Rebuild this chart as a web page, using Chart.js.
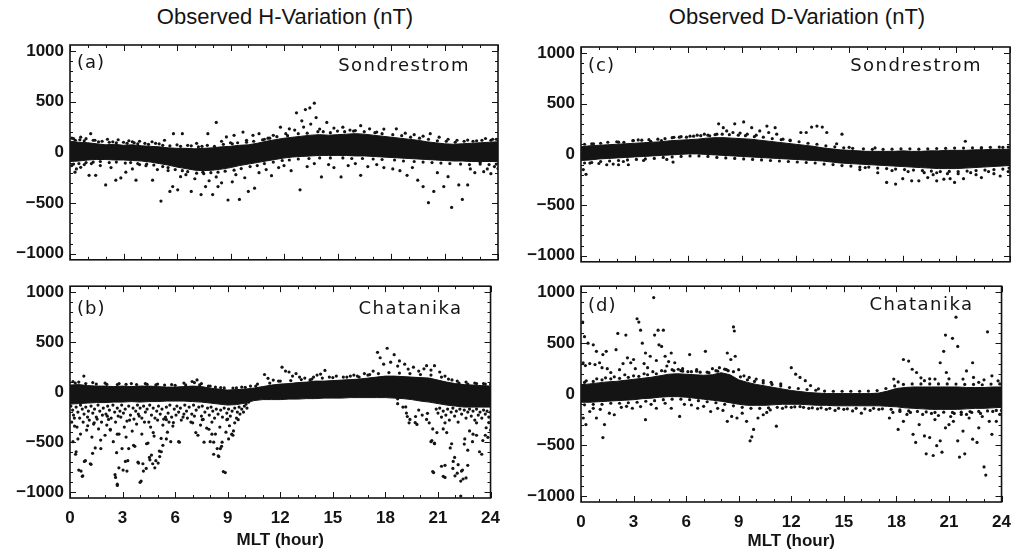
<!DOCTYPE html>
<html>
<head>
<meta charset="utf-8">
<script src="https://cdn.jsdelivr.net/npm/chart.js@4.4.1/dist/chart.umd.min.js"></script>
<style>
  body { margin: 0; background: #fff; width: 1021px; height: 552px; position: relative; overflow: hidden; }
  canvas { position: absolute; }
  .title { position: absolute; top: 4px; font: 22px "Liberation Sans", Arial, sans-serif; line-height: 26px; color: #141414; text-align: center; white-space: nowrap; }
</style>
</head>
<body>
<div class="title" style="left:0;width:570px">Observed H-Variation (nT)</div>
<div class="title" style="left:510px;width:574px">Observed D-Variation (nT)</div>
<canvas id="pa" width="510" height="276" style="left:0;top:0"></canvas>
<canvas id="pc" width="511" height="278" style="left:510px;top:0"></canvas>
<canvas id="pb" width="510" height="282" style="left:0;top:270px"></canvas>
<canvas id="pd" width="511" height="282" style="left:510px;top:270px"></canvas>
<script>
// axis ticks
const mltTicks = [0, 3, 6, 9, 12, 15, 18, 21, 24]
const nTTicks = [-1000, -500, 0, 500, 1000]

// MLT positions where the dense core band edges were read (hour)
const bandMLT = [0,0.5,1,1.5,2,2.5,3,3.5,4,4.5,5,5.5,6,6.5,7,7.5,8,8.5,9,9.5,10,10.5,11,11.5,12,12.5,13,13.5,14,14.5,15,15.5,16,16.5,17,17.5,18,18.5,19,19.5,20,20.5,21,21.5,22,22.5,23,23.5,24]

// (a) Sondrestrom H
const upperA = [110,100,95,85,75,80,70,75,65,60,55,45,40,40,35,40,45,55,60,70,75,90,110,125,140,150,160,170,175,170,175,180,185,180,170,160,150,140,130,120,105,95,85,80,85,90,95,100,105]
const lowerA = [-90,-85,-75,-70,-70,-75,-75,-80,-85,-95,-110,-125,-145,-160,-175,-180,-175,-165,-150,-130,-115,-100,-85,-70,-55,-45,-40,-35,-30,-30,-30,-30,-35,-35,-40,-45,-50,-55,-60,-65,-70,-75,-80,-85,-85,-90,-90,-90,-90]
const dotsA = [[0.1,140],[0.3,120],[0.6,150],[0.9,135],[1.16,185],[1.4,120],[1.8,110],[2.1,130],[2.4,105],[2.7,125],[3.0,100],[3.3,115],[3.6,95],[3.9,110],[4.2,90],[4.6,105],[5.0,85],[5.3,120],[5.8,185],[6.3,185],[6.0,75],[6.6,70],[7.1,90],[7.4,60],[7.73,185],[8.2,296],[8.5,110],[8.77,153],[9.2,169],[9.0,95],[9.7,201],[9.9,120],[10.26,169],[10.6,185],[10.9,130],[11.4,169],[11.8,249],[11.2,140],
  [12.1,185],[12.3,233],[12.7,391],[13.0,312],[13.2,423],[13.45,439],[13.7,486],[13.8,344],[13.5,280],[14.4,296],[12.6,220],[13.1,250],[14.0,230],[14.8,240],[15.3,249],[15.7,220],[16.3,264],[16.8,233],[17.2,201],[17.6,230],[18.3,233],[18.8,190],[19.3,175],[19.8,160],[20.2,185],[20.7,150],[21.2,130],[21.7,120],[22.3,122],[22.8,115],[23.3,137],[23.7,130],[24.0,125],[15.0,210],[16.0,215],[14.2,205],
  [0.1,-130],[0.28,-195],[0.36,-163],[0.6,-147],[0.8,-120],[1.07,-226],[1.44,-226],[1.2,-110],[1.7,-130],[2.0,-321],[2.3,-150],[2.57,-274],[2.85,-252],[3.13,-195],[3.5,-163],[3.7,-274],[3.9,-120],[4.26,-131],[4.63,-274],[4.9,-170],[5.1,-480],[5.5,-179],[5.6,-385],[5.76,-337],[6.04,-369],[6.2,-240],[6.5,-220],[6.8,-385],[7.0,-260],[7.35,-416],[7.45,-195],[7.6,-337],[7.8,-280],[8.0,-416],[8.2,-242],[8.3,-337],[8.5,-300],[8.86,-470],[9.1,-290],[9.3,-220],[9.5,-464],[9.8,-250],[10.0,-385],[10.35,-353],[10.6,-200],[11.0,-170],[11.3,-230],[11.7,-150],[12.0,-130],[12.4,-180],[12.9,-369],[13.3,-140],[13.7,-110],[14.1,-242],[14.5,-120],[14.8,-150],[15.2,-242],[15.6,-130],[16.0,-110],[16.3,-226],[16.7,-140],[17.2,-120],[17.6,-150],[18.1,-163],[18.5,-180],[18.9,-226],[19.2,-150],[19.5,-274],[19.8,-337],[20.1,-496],[20.4,-385],[20.6,-200],[20.96,-337],[21.2,-240],[21.4,-543],[21.8,-321],[22.0,-464],[22.3,-321],[22.45,-163],[22.7,-200],[23.0,-100],[23.2,-190],[23.4,-163],[23.6,-210],[23.8,-140],[24.0,-160]]
const edgeA = [[0.2,135],[0.55,125],[0.8,115],[1.3,120],[1.6,105],[2.2,100],[2.6,95],[3.2,90],[3.5,105],[3.8,85],[4.4,80],[4.8,90],[5.2,70],[5.6,65],[6.2,60],[6.8,65],[7.2,55],[7.7,70],[8.1,60],[8.6,80],[9.1,85],[9.4,95],[9.9,100],[10.3,110],[10.8,125],[11.1,140],[11.6,155],[12.2,165],[12.8,185],[13.3,190],[13.9,205],[14.6,195],[15.4,205],[15.9,210],[16.5,205],[17.1,195],[17.5,185],[18.1,175],[18.6,165],[19.1,150],[19.6,140],[20.1,130],[20.6,115],[21.1,110],[21.6,100],[22.1,110],[22.6,110],[23.1,120],[23.6,120],[23.9,130],
  [0.2,-115],[0.5,-110],[0.9,-100],[1.3,-95],[1.7,-90],[2.2,-100],[2.6,-95],[3.1,-105],[3.4,-100],[3.8,-110],[4.3,-115],[4.7,-125],[5.2,-140],[5.5,-150],[5.9,-170],[6.3,-180],[6.6,-190],[7.1,-205],[7.5,-210],[7.9,-200],[8.3,-195],[8.7,-185],[9.2,-175],[9.6,-160],[10.1,-140],[10.5,-130],[10.9,-110],[11.4,-95],[11.9,-80],[12.3,-75],[12.8,-65],[13.4,-60],[14.0,-55],[14.6,-55],[15.3,-55],[15.8,-60],[16.4,-60],[17.0,-65],[17.5,-70],[18.2,-75],[18.7,-85],[19.3,-90],[19.8,-95],[20.3,-100],[20.8,-105],[21.3,-110],[21.9,-115],[22.4,-120],[23.0,-115],[23.5,-120],[23.9,-115]]

// (b) Chatanika H
const upperB = [70,75,65,60,60,55,60,55,60,60,55,50,50,55,60,55,40,30,20,25,30,40,55,70,80,85,95,100,110,110,115,120,125,130,140,150,160,160,155,150,145,140,120,100,85,75,70,65,60]
const lowerB = [-120,-115,-110,-105,-105,-100,-100,-95,-100,-95,-95,-90,-90,-90,-95,-100,-110,-120,-130,-125,-110,-85,-75,-75,-75,-70,-70,-65,-65,-60,-60,-60,-55,-55,-55,-55,-55,-60,-65,-75,-90,-100,-115,-130,-140,-150,-150,-150,-150]
const dotsB = [[0.17,106],[0.5,100],[0.79,160],[1.3,95],[2.0,90],[2.8,85],[3.5,85],[4.3,85],[5.0,80],[5.8,75],[6.5,90],[6.97,106],[7.25,122],[7.1,95],[7.5,85],[8.0,60],[8.6,45],[9.3,40],[9.8,50],[10.3,60],[10.7,80],[11.1,176],[11.3,138],[11.6,120],[11.9,110],[12.1,249],[12.3,210],[12.5,201],[12.7,160],[12.9,185],[13.1,150],[13.4,140],[13.7,122],[13.9,150],[14.1,170],[14.3,180],[14.55,217],[14.8,150],[15.2,160],[15.6,150],[16.0,160],[16.2,170],[16.5,150],[16.8,185],[17.1,175],[17.3,210],[17.55,398],[17.7,344],[17.9,280],[18.1,439],[18.3,300],[18.5,375],[18.7,260],[18.8,312],[19.1,280],[19.3,230],[19.6,249],[19.9,210],[20.2,233],[20.35,264],[20.6,220],[20.8,264],[21.1,201],[21.4,160],[21.8,122],[22.2,90],[22.7,81],[23.2,85],[23.7,80],
  [0.1,-300],[0.17,-496],[0.25,-260],[0.32,-622],[0.4,-350],[0.5,-780],[0.6,-420],[0.7,-843],[0.75,-300],[0.88,-686],[0.95,-380],[1.0,-250],[1.16,-717],[1.25,-450],[1.35,-320],[1.44,-559],[1.55,-270],[1.63,-369],[1.75,-480],[1.85,-230],[2.0,-432],[2.1,-330],[2.2,-274],[2.3,-380],[2.47,-496],[2.57,-827],[2.6,-300],[2.66,-606],[2.7,-922],[2.8,-420],[2.9,-250],[3.03,-780],[3.1,-350],[3.2,-450],[3.3,-686],[3.4,-280],[3.55,-390],[3.7,-543],[3.8,-320],[3.88,-701],[3.95,-240],[4.06,-891],[4.1,-420],[4.16,-717],[4.25,-300],[4.35,-764],[4.45,-510],[4.53,-654],[4.6,-350],[4.72,-717],[4.8,-440],[4.9,-686],[5.0,-280],[5.1,-590],[5.2,-464],[5.3,-330],[5.45,-250],[5.56,-401],[5.65,-300],[5.75,-496],[5.9,-305],[6.05,-230],[6.2,-496],[6.35,-280],[6.5,-220],[6.7,-260],[6.9,-300],[7.1,-240],[7.3,-432],[7.45,-330],[7.6,-274],[7.8,-360],[8.0,-496],[8.1,-300],[8.2,-622],[8.3,-420],[8.46,-638],[8.55,-350],[8.65,-543],[8.75,-796],[8.9,-401],[9.0,-270],[9.1,-337],[9.3,-432],[9.5,-260],[9.7,-220],[9.9,-200],[10.1,-160],
  [0.26,-340],[0.63,-790],[0.73,-838],[1.2,-723],[0.35,-597],[0.82,-694],[0.45,-469],[1.01,-337],[1.38,-308],[1.76,-565],[1.29,-613],[2.13,-241],[2.3,-372],[2.7,-421],[2.6,-854],[2.7,-934],[2.79,-758],[2.97,-565],[3.16,-694],[3.35,-565],[3.25,-790],[3.63,-533],[3.91,-710],[4.0,-903],[4.19,-790],[4.37,-517],[4.56,-678],[4.65,-630],[4.84,-758],[5.03,-710],[5.12,-645],[5.21,-597],[5.3,-533],[4.75,-405],[5.5,-469],[5.87,-340],[6.24,-501],[5.5,-276],[7.0,-308],[7.18,-405],[7.55,-276],[7.65,-501],[7.93,-372],[8.1,-421],[8.2,-501],[8.4,-565],[8.49,-645],[8.58,-565],[8.68,-501],[8.86,-806],[8.95,-276],[9.05,-469],[9.23,-421],[9.33,-389],[9.4,-308],[9.6,-276],
  [18.7,-116],[19.2,-210],[19.4,-274],[19.7,-305],[19.0,-150],[19.9,-180],[20.1,-230],
  [18.7,-67],[19.16,-148],[19.25,-244],[19.35,-308],[19.72,-244],[19.8,-324],[20.4,-212],[20.5,-308],[20.65,-485],[20.8,-517],[20.94,-405],[20.75,-806],[21.2,-742],[21.4,-854],[21.4,-308],[21.5,-405],[21.78,-517],[21.87,-694],[21.97,-838],[22.15,-726],[22.34,-790],[22.43,-870],[22.53,-469],[22.7,-581],[22.8,-389],[23.0,-421],[23.2,-308],[23.37,-597],[23.56,-485],[23.75,-357],[23.85,-453],[22.3,-1040],
  [20.35,-274],[20.6,-496],[20.7,-369],[20.8,-511],[20.7,-796],[21.3,-843],[21.3,-369],[21.4,-733],[21.7,-559],[21.85,-764],[21.95,-654],[22.1,-812],[22.3,-891],[22.4,-780],[22.5,-520],[22.6,-859],[22.7,-733],[22.97,-496],[23.2,-432],[23.5,-622],[23.7,-432],[23.9,-305],[24.0,-380]]
// dense scatter just under the H core band at Chatanika
const edgeB = [[0.05,-140],[0.15,-180],[0.2,-230],[0.35,-150],[0.45,-200],[0.55,-260],[0.6,-130],[0.7,-170],[0.8,-220],[0.9,-150],[1.05,-190],[1.1,-280],[1.2,-140],[1.3,-210],[1.4,-170],[1.5,-250],[1.6,-130],[1.7,-190],[1.8,-300],[1.9,-160],[2.05,-220],[2.15,-140],[2.25,-180],[2.35,-260],[2.45,-130],[2.55,-200],[2.7,-160],[2.75,-240],[2.85,-190],[2.95,-130],[3.05,-210],[3.15,-170],[3.25,-290],[3.35,-140],[3.45,-230],[3.6,-160],[3.65,-270],[3.75,-190],[3.85,-130],[3.9,-220],[4.0,-160],[4.1,-260],[4.2,-140],[4.3,-200],[4.4,-170],[4.5,-300],[4.55,-130],[4.65,-230],[4.75,-160],[4.85,-260],[4.95,-190],[5.05,-140],[5.15,-220],[5.25,-170],[5.35,-270],[5.5,-150],[5.6,-210],[5.7,-130],[5.8,-250],[5.95,-170],[6.1,-140],[6.2,-200],[6.3,-160],[6.45,-250],[6.55,-130],[6.65,-190],[6.8,-150],[6.95,-220],[7.05,-130],[7.2,-180],[7.35,-150],[7.5,-240],[7.55,-140],[7.7,-200],[7.85,-160],[7.95,-230],[8.05,-150],[8.15,-190],[8.25,-260],[8.35,-170],[8.45,-220],[8.6,-180],[8.7,-250],[8.8,-160],[8.95,-210],[9.05,-170],[9.15,-240],[9.25,-190],[9.4,-160],[9.55,-200],[9.65,-150],[9.8,-170],[9.95,-140],[10.05,-120],[10.2,-100],
  [20.9,-170],[21.0,-210],[21.1,-160],[21.2,-250],[21.3,-190],[21.45,-230],[21.55,-170],[21.65,-280],[21.75,-200],[21.85,-160],[21.95,-240],[22.05,-190],[22.15,-300],[22.25,-170],[22.35,-220],[22.5,-180],[22.6,-260],[22.7,-200],[22.8,-170],[22.9,-240],[23.0,-190],[23.1,-280],[23.2,-170],[23.3,-230],[23.4,-200],[23.5,-260],[23.6,-180],[23.7,-220],[23.8,-190],[23.9,-250],[24.0,-200],
  [0.3,90],[0.9,85],[1.5,80],[2.1,78],[2.7,75],[3.2,78],[3.8,75],[4.4,78],[4.9,72],[5.4,70],[6.0,68],[6.6,72],[7.4,72],[7.9,60],[8.3,50],[8.8,42],[9.5,42],[10.0,48],[10.6,60],[11.4,90],[12.0,110],[12.6,115],[13.2,125],[13.8,130],[14.4,140],[15.0,145],[15.8,150],[16.4,160],[17.0,170],[17.6,185],[18.2,195],[18.8,190],[19.4,185],[20.0,175],[20.6,170],[21.2,150],[21.6,130],[22.1,110],[22.6,100],[23.1,90],[23.6,85],[24.0,80]]

// (c) Sondrestrom D
const upperC = [75,85,90,95,100,105,110,115,120,125,135,140,145,150,160,165,165,160,155,150,140,130,120,110,100,90,80,65,55,45,40,35,30,30,30,30,35,30,30,35,35,40,40,40,45,45,50,50,50]
const lowerC = [-60,-55,-45,-40,-35,-30,-25,-20,-15,-10,-5,0,5,5,0,-5,-10,-15,-20,-25,-30,-35,-40,-45,-50,-55,-60,-65,-75,-85,-90,-95,-100,-105,-110,-115,-120,-125,-130,-135,-140,-140,-140,-135,-130,-125,-120,-115,-110]
const dotsC = [[0.13,-150],[0.28,-197],[0.5,-86],[0.7,105],[1.0,-90],[1.44,-102],[1.8,-95],[2.1,-102],[2.1,121],[2.37,-70],[2.65,-102],[2.93,137],[3.2,143],[3.5,-60],[3.9,130],[4.5,137],[4.8,-50],[5.15,-76],[5.2,169],[5.6,175],[6.1,180],[6.5,190],[6.9,200],[7.2,184],[7.6,200],[7.7,302],[7.96,264],[8.15,232],[8.5,216],[8.6,302],[8.9,210],[9.1,321],[9.3,200],[9.55,264],[9.8,190],[10.0,232],[10.4,280],[10.5,216],[10.86,264],[10.95,200],[11.3,150],[11.7,140],[12.3,216],[12.6,216],[12.9,270],[13.2,280],[13.5,270],[13.75,216],[14.3,105],[14.6,200],[15.0,70],[15.6,-150],[15.9,-130],[16.45,64],[16.6,-181],[17.1,-277],[17.4,-160],[17.6,-293],[18.0,-240],[18.3,-170],[18.5,-261],[18.9,-261],[19.2,-180],[19.4,-229],[19.7,-200],[19.9,-181],[19.9,-261],[20.3,-245],[20.5,-190],[20.65,-240],[20.9,-277],[21.1,-190],[21.4,-240],[21.5,130],[21.8,-180],[22.1,-200],[22.4,-229],[22.4,57],[22.8,-170],[23.1,-190],[23.45,-213],[23.6,70],[23.9,-170]]
const edgeC = [[0.2,100],[0.6,105],[1.1,110],[1.5,120],[2.0,125],[2.4,120],[2.9,135],[3.4,140],[3.8,145],[4.3,150],[4.7,155],[5.1,165],[5.5,170],[5.9,170],[6.3,180],[6.7,185],[7.1,190],[7.5,195],[7.9,200],[8.3,195],[8.8,190],[9.2,185],[9.7,175],[10.2,170],[10.7,155],[11.2,145],[11.7,135],[12.2,125],[12.7,110],[13.2,100],[13.7,85],[14.2,75],[14.7,65],[15.2,60],[15.8,55],[16.3,50],[16.9,50],[17.4,52],[17.9,55],[18.4,55],[18.9,52],[19.4,55],[19.9,58],[20.4,60],[20.9,62],[21.4,62],[21.9,65],[22.4,68],[22.9,70],[23.4,72],[23.9,72],
  [0.2,-85],[0.6,-80],[1.1,-70],[1.6,-65],[2.1,-60],[2.6,-55],[3.1,-50],[3.6,-45],[4.1,-40],[4.6,-30],[5.1,-25],[5.6,-20],[6.1,-15],[6.6,-15],[7.1,-20],[7.6,-30],[8.1,-35],[8.6,-40],[9.1,-45],[9.6,-50],[10.1,-55],[10.6,-60],[11.1,-65],[11.6,-70],[12.1,-75],[12.6,-80],[13.1,-85],[13.6,-95],[14.1,-100],[14.6,-110],[15.1,-115],[15.6,-125],[16.1,-125],[16.6,-135],[17.1,-140],[17.6,-145],[18.1,-150],[18.6,-155],[19.1,-160],[19.6,-165],[20.1,-170],[20.6,-168],[21.1,-170],[21.6,-165],[22.1,-160],[22.6,-155],[23.1,-150],[23.6,-145],[23.95,-135]]

// (d) Chatanika D
const upperD = [90,100,110,120,125,135,145,155,165,180,195,200,195,190,185,190,210,190,140,115,95,80,65,50,35,25,15,10,5,5,5,5,5,5,10,30,55,65,70,70,70,70,70,70,65,65,65,70,70]
const lowerD = [-80,-80,-75,-70,-65,-60,-55,-45,-40,-30,-25,-25,-30,-40,-50,-60,-70,-85,-100,-110,-110,-110,-105,-100,-100,-100,-105,-110,-110,-115,-115,-115,-115,-115,-115,-120,-125,-135,-140,-145,-150,-150,-150,-150,-145,-140,-140,-135,-130]
const dotsD = [[0.1,708],[0.2,564],[0.12,308],[0.4,500],[0.25,280],[0.5,300],[0.7,484],[0.88,420],[0.8,290],[1.06,308],[1.25,388],[1.2,260],[1.44,420],[1.5,250],[1.7,212],[2.0,436],[2.1,596],[2.2,240],[2.4,300],[2.56,580],[2.65,356],[2.84,308],[3.0,340],[3.1,250],[3.2,740],[3.3,708],[3.4,628],[3.5,500],[3.6,300],[3.68,404],[3.8,260],[3.95,372],[4.15,948],[4.2,580],[4.3,330],[4.4,628],[4.45,484],[4.6,468],[4.7,628],[4.8,372],[4.9,276],[5.0,320],[5.15,404],[5.35,308],[5.55,244],[5.8,250],[6.2,388],[6.6,240],[7.1,420],[7.5,250],[7.9,260],[8.35,404],[8.55,340],[8.7,660],[8.75,620],[8.8,372],[9.0,240],[9.3,180],[9.6,164],[10.0,148],[10.4,132],[10.85,116],[11.4,100],
  [12.0,260],[12.25,196],[12.5,164],[12.8,132],[13.1,84],[13.55,52],[17.85,148],[18.1,120],[18.4,340],[18.7,324],[18.9,244],[19.15,212],[19.4,160],[19.6,132],[19.9,150],[20.2,148],[20.5,308],[20.7,420],[20.8,580],[20.85,212],[21.0,150],[21.2,548],[21.4,756],[21.5,468],[21.8,148],[22.0,228],[22.35,308],[22.4,164],[22.7,116],[23.0,140],[23.2,612],[23.45,180],[23.8,130],
  [0.13,-235],[0.28,-299],[0.5,-171],[0.7,-140],[0.88,-235],[1.1,-150],[1.25,-427],[1.34,-299],[1.62,-187],[1.9,-203],[2.3,-130],[2.6,-120],[2.93,-139],[3.4,-123],[3.68,-251],[4.0,-100],[4.3,-139],[4.8,-90],[5.15,-139],[5.63,-219],[5.9,-100],[6.3,-107],[6.66,-139],[7.0,-120],[7.4,-171],[7.8,-140],[8.1,-160],[8.35,-267],[8.6,-219],[8.9,-235],[9.2,-187],[9.45,-267],[9.65,-459],[9.75,-420],[9.85,-347],[10.1,-235],[10.4,-203],[10.6,-180],[10.8,-155],[11.15,-315],[11.5,-140],[12.0,-130],[12.5,-123],[13.0,-140],[13.5,-145],[14.0,-150],[14.5,-160],[15.0,-150],[15.5,-165],[16.0,-187],[16.5,-160],[17.0,-150],[17.6,-235],[17.8,-180],[18.1,-347],[18.4,-267],[18.6,-200],[18.95,-395],[19.1,-475],[19.3,-299],[19.6,-411],[19.7,-587],[19.9,-427],[20.1,-603],[20.2,-250],[20.3,-507],[20.5,-459],[20.6,-571],[20.8,-331],[21.0,-299],[21.1,-220],[21.25,-267],[21.5,-459],[21.6,-619],[21.8,-363],[21.9,-587],[22.0,-200],[22.15,-235],[22.35,-443],[22.6,-475],[22.7,-331],[22.9,-220],[23.0,-715],[23.1,-795],[23.3,-267],[23.45,-395],[23.7,-267],[23.9,-200],
  [0.3,130],[0.9,150],[1.4,160],[1.9,170],[2.5,190],[3.0,180],[3.6,200],[4.1,220],[4.6,230],[5.2,240],[5.7,230],[6.1,220],[6.6,225],[7.2,215],[7.7,230],[8.2,245],[8.4,230],
  [18.2,-170],[18.8,-180],[19.5,-200],[20.0,-190],[20.4,-210],[21.3,-190],[21.7,-200],[22.3,-180],[22.8,-190],[23.5,-170],[24.0,-160]]
const edgeD = [[0.2,115],[0.7,125],[1.2,140],[1.7,150],[2.2,155],[2.7,165],[3.3,175],[3.8,190],[4.3,200],[4.8,225],[5.3,230],[5.8,225],[6.3,220],[6.8,215],[7.3,210],[7.8,225],[8.3,240],[8.7,220],[9.1,170],[9.5,140],[9.9,125],[10.4,110],[10.9,95],[11.4,80],[11.9,65],[12.4,55],[12.9,45],[13.4,38],[13.9,30],[14.4,28],[14.9,28],[15.4,28],[15.9,28],[16.4,30],[16.9,35],[17.4,55],[17.9,80],[18.4,95],[18.9,100],[19.4,100],[19.9,100],[20.4,100],[20.9,100],[21.4,98],[21.9,95],[22.4,95],[22.9,92],[23.4,98],[23.9,100],
  [0.2,-105],[0.7,-100],[1.2,-100],[1.7,-90],[2.2,-90],[2.7,-85],[3.2,-80],[3.7,-70],[4.2,-65],[4.7,-55],[5.2,-50],[5.7,-50],[6.2,-55],[6.7,-65],[7.2,-75],[7.7,-85],[8.2,-100],[8.7,-115],[9.2,-130],[9.7,-140],[10.2,-140],[10.7,-135],[11.2,-130],[11.7,-125],[12.2,-125],[12.7,-130],[13.2,-135],[13.7,-135],[14.2,-140],[14.7,-140],[15.2,-145],[15.7,-140],[16.2,-145],[16.7,-140],[17.2,-145],[17.7,-150],[18.2,-155],[18.7,-165],[19.2,-170],[19.7,-175],[20.2,-180],[20.7,-178],[21.2,-180],[21.7,-178],[22.2,-172],[22.7,-170],[23.2,-165],[23.7,-160]]

const ink = '#141414'
const tickFont = { family: 'Liberation Sans', weight: 'bold', size: 17 }

// box with inward major/minor ticks on all four sides, plus panel captions
const framePlugin = {
	id: 'frame',
	afterDraw(chart, args, opts) {
		const { ctx, chartArea: a, scales: { x, y } } = chart
		ctx.save()
		ctx.strokeStyle = ink
		ctx.lineWidth = 1
		ctx.beginPath()
		for (let h = 0; h <= 24; h++) {
			const px = Math.round(x.getPixelForValue(h)) + 0.5
			const len = mltTicks.includes(h) ? 6 : 3
			ctx.moveTo(px, a.bottom); ctx.lineTo(px, a.bottom - len)
			ctx.moveTo(px, a.top); ctx.lineTo(px, a.top + len)
		}
		for (let v = -1000; v <= 1000; v += 100) {
			const py = Math.round(y.getPixelForValue(v)) + 0.5
			const len = nTTicks.includes(v) ? 6 : 3
			ctx.moveTo(a.left, py); ctx.lineTo(a.left + len, py)
			ctx.moveTo(a.right, py); ctx.lineTo(a.right - len, py)
		}
		ctx.stroke()
		ctx.lineWidth = 1.6
		ctx.strokeRect(a.left, a.top, a.right - a.left, a.bottom - a.top)

		ctx.fillStyle = ink
		ctx.font = '18px "DejaVu Sans"'
		ctx.textBaseline = 'middle'
		ctx.letterSpacing = '1px'
		ctx.textAlign = 'left'
		ctx.fillText(opts.tag, a.left + 7, a.top + opts.tagDy)
		ctx.letterSpacing = '1.5px'
		ctx.textAlign = 'right'
		ctx.fillText(opts.site, a.right - 28, a.top + opts.siteDy)
		ctx.restore()
	}
}

function makePanel(id, p) {
	const toXY = arr => bandMLT.map((x, i) => ({ x: x, y: arr[i] }))
	return new Chart(document.getElementById(id), {
		type: 'line',
		data: {
			datasets: [
				{
					data: toXY(p.upper),
					fill: '+1',
					backgroundColor: ink,
					borderColor: ink,
					borderWidth: 1,
					pointRadius: 0,
					tension: 0
				},
				{
					data: toXY(p.lower),
					fill: false,
					borderColor: ink,
					borderWidth: 1,
					pointRadius: 0,
					tension: 0
				},
				{
					data: p.dots.concat(p.edge).map(d => ({ x: d[0], y: d[1] })),
					showLine: false,
					pointRadius: 1.6,
					pointBorderWidth: 0,
					pointBackgroundColor: ink
				}
			]
		},
		options: {
			responsive: false,
			animation: false,
			events: [],
			layout: { padding: p.pad },
			plugins: {
				legend: { display: false },
				tooltip: { enabled: false },
				frame: { tag: p.tag, site: p.site, tagDy: p.tagDy, siteDy: p.siteDy }
			},
			scales: {
				x: {
					type: 'linear',
					min: 0,
					max: 24,
					grid: { display: false, drawTicks: false },
					border: { display: false },
					afterBuildTicks: s => { s.ticks = mltTicks.map(v => ({ value: v })) },
					afterFit: s => { s.height = p.xh },
					ticks: { display: p.bottom, autoSkip: false, maxRotation: 0, padding: 10, color: ink, font: tickFont },
					title: {
						display: p.bottom,
						text: 'MLT (hour)',
						color: ink,
						font: tickFont,
						padding: { top: 0, bottom: p.titlePad }
					}
				},
				y: {
					min: -1060,
					max: 1060,
					grid: { display: false, drawTicks: false },
					border: { display: false },
					afterBuildTicks: s => { s.ticks = nTTicks.map(v => ({ value: v })) },
					afterFit: s => { s.width = p.yw },
					ticks: {
						padding: 6,
						color: ink,
						font: tickFont,
						callback: v => (v < 0 ? '\u2212' + (-v) : String(v))
					}
				}
			}
		},
		plugins: [framePlugin]
	})
}

makePanel('pa', { upper: upperA, lower: lowerA, dots: dotsA, edge: edgeA, tag: '(a)', site: 'Sondrestrom', tagDy: 18, siteDy: 21,
	pad: { top: 45, right: 12, left: 0, bottom: 0 }, yw: 70, xh: 10, bottom: false, titlePad: 0 })
makePanel('pc', { upper: upperC, lower: lowerC, dots: dotsC, edge: edgeC, tag: '(c)', site: 'Sondrestrom', tagDy: 19, siteDy: 19,
	pad: { top: 47, right: 11, left: 0, bottom: 0 }, yw: 71, xh: 10, bottom: false, titlePad: 0 })
makePanel('pb', { upper: upperB, lower: lowerB, dots: dotsB, edge: edgeB, tag: '(b)', site: 'Chatanika', tagDy: 23, siteDy: 23,
	pad: { top: 8, right: 12, left: 0, bottom: 0 }, yw: 70, xh: 54, bottom: true, titlePad: 1 })
makePanel('pd', { upper: upperD, lower: lowerD, dots: dotsD, edge: edgeD, tag: '(d)', site: 'Chatanika', tagDy: 20, siteDy: 19,
	pad: { top: 13, right: 11, left: 0, bottom: 0 }, yw: 71, xh: 50, bottom: true, titlePad: 0 })
</script>
</body>
</html>
